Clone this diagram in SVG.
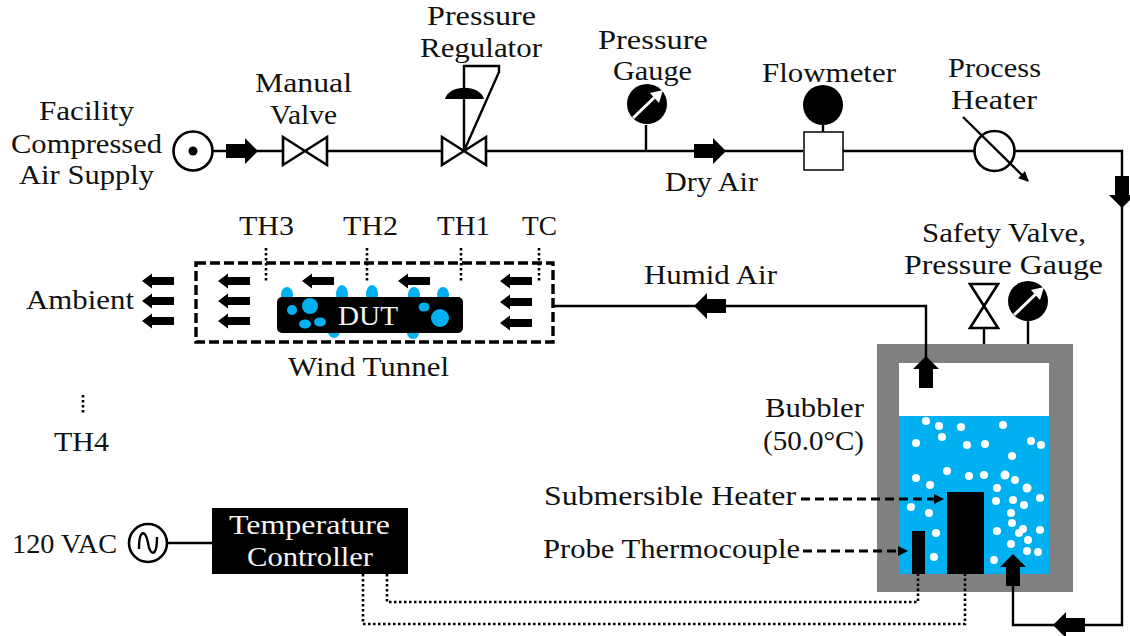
<svg xmlns="http://www.w3.org/2000/svg" width="1130" height="636" viewBox="0 0 1130 636">
<style>
text{font-family:"Liberation Serif","Times New Roman",serif;font-size:27px;fill:#111}
text.w{fill:#f4f4f4}
.l{fill:none;stroke:#000;stroke-width:2.4}
.o{fill:#fff;stroke:#000;stroke-width:2.6}
.d{fill:none;stroke:#000;stroke-width:2.6;stroke-dasharray:2.5 2.5}
.da{fill:none;stroke:#000;stroke-width:3;stroke-dasharray:9 5}
.dt{fill:none;stroke:#000;stroke-width:3.4;stroke-dasharray:10 4}
.b{fill:#00b0f0}
.c{fill:#fff}
</style>
<defs>
<path id="big" d="M-16 -7H3V-13L16 0L3 13V7H-16Z"/>
<path id="small" d="M16 -4H-6V-7.500L-16 0L-6 7.500V4H16Z"/>
<marker id="tip" viewBox="0 0 10 10" refX="9" refY="5" markerWidth="11" markerHeight="10" markerUnits="userSpaceOnUse" orient="auto"><path d="M0 0L10 5L0 10Z"/></marker>
<g id="gauge"><circle r="20"/><path d="M-14 14L11 -10" stroke="#fff" stroke-width="3" fill="none"/><path d="M16 -14L3 -11L12 -1Z" fill="#fff"/></g>
</defs>
<g id="bubbler">
<rect x="877" y="344" width="196" height="248" fill="#808080"/>
<rect x="899" y="363" width="150" height="53" fill="#fff"/>
<rect x="899" y="416" width="150" height="158" class="b"/>
<g class="c">
<circle cx="926" cy="421" r="4"/><circle cx="939" cy="426" r="4"/><circle cx="961" cy="427" r="4"/><circle cx="1003" cy="425" r="4"/><circle cx="942" cy="437" r="4"/><circle cx="916" cy="443" r="4"/><circle cx="967" cy="445" r="4"/><circle cx="985" cy="444" r="4"/><circle cx="1031" cy="441" r="4"/><circle cx="1041" cy="445" r="4"/><circle cx="1012" cy="456" r="4"/><circle cx="947" cy="471" r="4"/><circle cx="916" cy="478" r="4"/><circle cx="930" cy="485" r="4"/><circle cx="969" cy="476" r="4"/><circle cx="984" cy="475" r="4"/><circle cx="1005" cy="475" r="4.500"/><circle cx="1015" cy="480" r="4"/><circle cx="1027" cy="488" r="4.500"/><circle cx="997" cy="488" r="4"/><circle cx="996" cy="501" r="4"/><circle cx="1013" cy="500" r="4"/><circle cx="1024" cy="505" r="4"/><circle cx="1040" cy="498" r="4"/><circle cx="911" cy="507" r="4"/><circle cx="929" cy="513" r="4"/><circle cx="1011" cy="513" r="4"/><circle cx="1012" cy="523" r="4"/><circle cx="936" cy="533" r="4"/><circle cx="997" cy="531" r="4"/><circle cx="1023" cy="529" r="4"/><circle cx="1019" cy="533" r="4"/><circle cx="1040" cy="530" r="4"/><circle cx="1028" cy="540" r="4"/><circle cx="1011" cy="544" r="4"/><circle cx="1027" cy="551" r="4"/><circle cx="1038" cy="552" r="4"/><circle cx="934" cy="557" r="4"/><circle cx="994" cy="560" r="4"/>
</g>
<rect x="947" y="492" width="37" height="82"/>
<rect x="912" y="531" width="13" height="43"/>
<text x="765" y="417" textLength="99" lengthAdjust="spacingAndGlyphs">Bubbler</text>
<text x="763" y="450" textLength="101" lengthAdjust="spacingAndGlyphs">(50.0°C)</text>
</g>
<g id="connectors">
<path class="l" d="M213 151H282M328 151H441M487 151H803M843 151H975M1015 151H1122V625H1013V570"/>
<path class="l" d="M646 151V125M823 132V125"/>
<path class="l" d="M553 306H926V360"/>
<path class="l" d="M984 329V344M1028 321V344"/>
<path class="l" d="M168 543H212"/>
<path class="d" d="M387 574V602H918V574"/>
<path class="d" d="M363 574V624H965V574"/>
<path class="d" d="M266 248V282M367 248V282M461 248V282M539 248V282M83 395V415"/>
<use href="#big" x="242" y="151"/>
<use href="#big" x="710" y="151"/>
<use href="#big" transform="translate(1122 192) rotate(90)"/>
<use href="#big" transform="translate(1069 625) rotate(180)"/>
<use href="#big" transform="translate(710 306) rotate(180)"/>
<use href="#big" transform="translate(926 372) rotate(-90)"/>
<use href="#big" transform="translate(1013 570) rotate(-90)"/>
</g>
<g id="wind-tunnel">
<rect x="196" y="263" width="357" height="79" class="dt"/>
<g class="b"><ellipse cx="287" cy="295" rx="6" ry="8"/><ellipse cx="342" cy="294" rx="6" ry="9"/><ellipse cx="372" cy="294" rx="6" ry="9"/><ellipse cx="414" cy="295" rx="6" ry="8"/><ellipse cx="443" cy="295" rx="6" ry="8"/><ellipse cx="334" cy="331" rx="6" ry="7"/><ellipse cx="413" cy="333" rx="6" ry="6"/></g>
<rect x="277" y="297" width="186" height="36" rx="5"/>
<g class="b"><circle cx="292" cy="310" r="5"/><circle cx="310" cy="306" r="8"/><ellipse cx="305" cy="324" rx="6" ry="4.500"/><ellipse cx="320" cy="322" rx="6" ry="4.500"/><ellipse cx="424" cy="307" rx="5.500" ry="4.500"/><circle cx="440" cy="318" r="9"/></g>
<text class="w" x="338" y="325" textLength="60" lengthAdjust="spacingAndGlyphs">DUT</text>
<text x="288" y="376" textLength="161" lengthAdjust="spacingAndGlyphs">Wind Tunnel</text>
<g id="tunnel-arrows">
<use href="#small" x="158" y="281"/><use href="#small" x="158" y="301"/><use href="#small" x="158" y="321"/>
<use href="#small" x="234" y="281"/><use href="#small" x="234" y="301"/><use href="#small" x="234" y="321"/>
<use href="#small" x="318" y="281"/><use href="#small" x="414" y="281"/>
<use href="#small" x="516" y="281"/><use href="#small" x="516" y="302"/><use href="#small" x="516" y="323"/>
</g>
</g>
<g id="air-supply"><circle class="o" cx="193" cy="151" r="19.500"/><circle cx="193" cy="151" r="4.500"/>
<text x="39" y="120" textLength="95" lengthAdjust="spacingAndGlyphs">Facility</text>
<text x="11" y="153" textLength="151" lengthAdjust="spacingAndGlyphs">Compressed</text>
<text x="19" y="184" textLength="135" lengthAdjust="spacingAndGlyphs">Air Supply</text></g>
<g id="manual-valve"><path class="o" d="M283 137L327 165V137L283 165Z"/>
<text x="255" y="92" textLength="97" lengthAdjust="spacingAndGlyphs">Manual</text>
<text x="270" y="124" textLength="67" lengthAdjust="spacingAndGlyphs">Valve</text></g>
<g id="pressure-regulator"><path class="o" d="M442 137L486 165V137L442 165Z"/>
<path class="l" d="M464 151V66H499V72L464 151"/>
<path d="M445 99C449 84 480 84 484 99Z"/>
<text x="427" y="25" textLength="109" lengthAdjust="spacingAndGlyphs">Pressure</text>
<text x="420" y="57" textLength="122" lengthAdjust="spacingAndGlyphs">Regulator</text></g>
<g id="pressure-gauge"><use href="#gauge" x="647" y="104"/>
<text x="598" y="49" textLength="110" lengthAdjust="spacingAndGlyphs">Pressure</text>
<text x="613" y="80" textLength="79" lengthAdjust="spacingAndGlyphs">Gauge</text>
<text x="665" y="191" textLength="93" lengthAdjust="spacingAndGlyphs">Dry Air</text></g>
<g id="flowmeter"><circle cx="823" cy="105" r="20"/><rect x="804" y="132" width="39" height="38" fill="#fff" stroke="#000" stroke-width="1.500"/>
<text x="762" y="82" textLength="134" lengthAdjust="spacingAndGlyphs">Flowmeter</text></g>
<g id="process-heater"><circle class="o" cx="994.500" cy="151" r="20"/><path class="l" d="M963 117L1028 181" marker-end="url(#tip)"/>
<text x="948" y="77" textLength="93" lengthAdjust="spacingAndGlyphs">Process</text>
<text x="951" y="109" textLength="86" lengthAdjust="spacingAndGlyphs">Heater</text></g>
<g id="safety-valve"><path class="o" d="M970 284H998L970 328H998Z"/><use href="#gauge" x="1028" y="301"/>
<text x="922" y="242" textLength="164" lengthAdjust="spacingAndGlyphs">Safety Valve,</text>
<text x="904" y="274" textLength="199" lengthAdjust="spacingAndGlyphs">Pressure Gauge</text></g>
<g id="heater-labels">
<path class="da" d="M801 499H935"/><path d="M944 499L934 494V504Z"/>
<path class="da" d="M803 551H899"/><path d="M908 551L898 546V556Z"/>
<text x="544" y="505" textLength="252" lengthAdjust="spacingAndGlyphs">Submersible Heater</text>
<text x="543" y="558" textLength="257" lengthAdjust="spacingAndGlyphs">Probe Thermocouple</text>
</g>
<g id="temperature-controller"><rect x="212" y="508" width="196" height="66"/>
<text class="w" x="229" y="534" textLength="161" lengthAdjust="spacingAndGlyphs">Temperature</text>
<text class="w" x="247" y="566" textLength="126" lengthAdjust="spacingAndGlyphs">Controller</text></g>
<g id="ac-source"><circle class="o" cx="148" cy="543" r="19"/><path class="l" d="M139 549C139 528 146 530 148 543C150 556 157 558 157 537"/>
<text x="12" y="553" textLength="105" lengthAdjust="spacingAndGlyphs">120 VAC</text></g>
<g id="labels">
<text x="239" y="235" textLength="55" lengthAdjust="spacingAndGlyphs">TH3</text>
<text x="343" y="235" textLength="55" lengthAdjust="spacingAndGlyphs">TH2</text>
<text x="437" y="235" textLength="53" lengthAdjust="spacingAndGlyphs">TH1</text>
<text x="522" y="235" textLength="35" lengthAdjust="spacingAndGlyphs">TC</text>
<text x="54" y="451" textLength="55" lengthAdjust="spacingAndGlyphs">TH4</text>
<text x="26" y="309" textLength="108" lengthAdjust="spacingAndGlyphs">Ambient</text>
<text x="644" y="284" textLength="133" lengthAdjust="spacingAndGlyphs">Humid Air</text>
</g>
</svg>
